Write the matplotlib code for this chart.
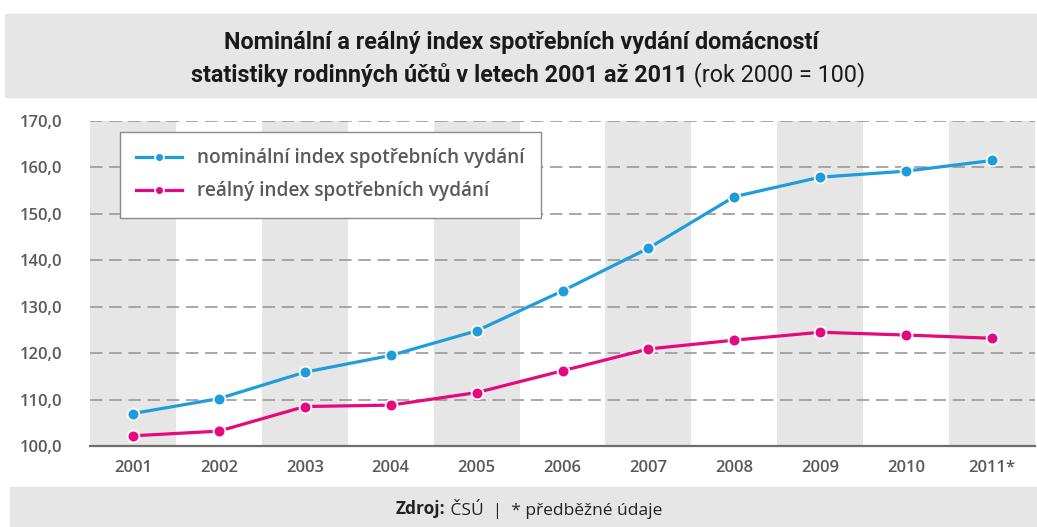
import matplotlib.pyplot as plt
from matplotlib.patches import Rectangle

years = ["2001", "2002", "2003", "2004", "2005", "2006",
         "2007", "2008", "2009", "2010", "2011*"]
nominal = [107.0, 110.2, 115.9, 119.5, 124.8, 133.4,
           142.6, 153.7, 157.9, 159.2, 161.5]
real = [102.2, 103.2, 108.5, 108.8, 111.5, 116.2,
        120.9, 122.8, 124.5, 123.9, 123.2]
y_ticks = [100, 110, 120, 130, 140, 150, 160, 170]

BLUE = "#1f9ddb"
PINK = "#e5097f"
BAND = "#e6e6e6"
TEXT_GRAY = "#5a5a5a"
TITLE_FONT = ["Roboto", "DejaVu Sans"]
BODY_FONT = ["Open Sans", "DejaVu Sans"]

fig = plt.figure(figsize=(10.37, 5.27), dpi=100)
W, H = 1037, 527


def px(x, y):
    return x / W, 1 - y / H


# header band and footer band
fig.patches.append(Rectangle(px(5, 97), (W - 5) / W, 83 / H,
                             transform=fig.transFigure, color=BAND, zorder=0))
fig.patches.append(Rectangle(px(10, 527), (W - 10) / W, 40 / H,
                             transform=fig.transFigure, color=BAND, zorder=0))

ax = fig.add_axes([90 / W, 1 - 446 / H, 945 / W, 325 / H])
x = list(range(len(years)))
ax.set_xlim(-0.5, len(years) - 0.5)
ax.set_ylim(100, 170)

# alternating column bands
for i in x:
    if i % 2 == 0:
        ax.axvspan(i - 0.5, i + 0.5, color=BAND, lw=0, zorder=0)

for t in y_ticks[1:]:
    ax.axhline(t, color="#999999", lw=1.2, dashes=(7.5, 4), zorder=1)
ax.axhline(100, color="#6e6e6e", lw=1.6, zorder=1, clip_on=False)

for vals, col, lab in [(nominal, BLUE, "nominální index spotřebních vydání"),
                       (real, PINK, "reálný index spotřebních vydání")]:
    ax.plot(x, vals, color=col, lw=2.3, marker="o", ms=8.5,
            markerfacecolor=col, markeredgecolor="white", markeredgewidth=1.3,
            zorder=3, clip_on=False, label=lab)

for s in ax.spines.values():
    s.set_visible(False)
ax.set_xticks(x)
ax.set_xticklabels(years)
ax.set_yticks(y_ticks)
ax.set_yticklabels([f"{t},0" for t in y_ticks])
ax.tick_params(length=0, colors=TEXT_GRAY, labelsize=12)
ax.tick_params(axis="x", pad=10)
ax.tick_params(axis="y", pad=20)
for lbl in ax.get_xticklabels() + ax.get_yticklabels():
    lbl.set_family(BODY_FONT)
    lbl.set_fontweight("semibold")
    lbl.set_color(TEXT_GRAY)

leg = ax.legend(loc="upper left", bbox_to_anchor=(30 / 945, 1 - 11 / 325),
                frameon=True, fancybox=False, handlelength=2.4,
                handletextpad=0.8, borderpad=0.85, labelspacing=0.7,
                borderaxespad=0, markerscale=0.75, framealpha=1,
                prop={"family": BODY_FONT, "size": 13.7, "weight": "semibold"})
leg.get_frame().set_edgecolor("#8a8a8a")
leg.get_frame().set_linewidth(1.0)
for t in leg.get_texts():
    t.set_color(TEXT_GRAY)

# title
fig.text(521 / W, 1 - 43 / H,
         "Nominální a reálný index spotřebních vydání domácností",
         ha="center", va="center", fontsize=16.8, fontweight="bold",
         family=TITLE_FONT, color="#1a1a1a")
bold2 = "statistiky rodinných účtů v letech 2001 až 2011"
reg2 = " (rok 2000 = 100)"
t1 = fig.text(0, 1 - 75 / H, bold2, ha="left", va="center", fontsize=16.8,
              fontweight="bold", family=TITLE_FONT, color="#1a1a1a")
t2 = fig.text(0, 1 - 75 / H, reg2, ha="left", va="center", fontsize=16.8,
              family=TITLE_FONT, color="#1a1a1a")

f1 = fig.text(0, 1 - 509 / H, "Zdroj:", ha="left", va="center", fontsize=12.5,
              fontweight="bold", family=BODY_FONT, color="#222222")
f2 = fig.text(0, 1 - 509 / H, " ČSÚ  |  * předběžné údaje", ha="left",
              va="center", fontsize=12.5, family=BODY_FONT, color="#222222")

fig.canvas.draw()
r = fig.canvas.get_renderer()


def center_pair(a, b, cx):
    wa = a.get_window_extent(r).width
    wb = b.get_window_extent(r).width
    start = cx - (wa + wb) / 2
    a.set_x(start / W)
    b.set_x((start + wa) / W)


center_pair(t1, t2, 528)
center_pair(f1, f2, 529)

fig.savefig("out.png", dpi=100)
